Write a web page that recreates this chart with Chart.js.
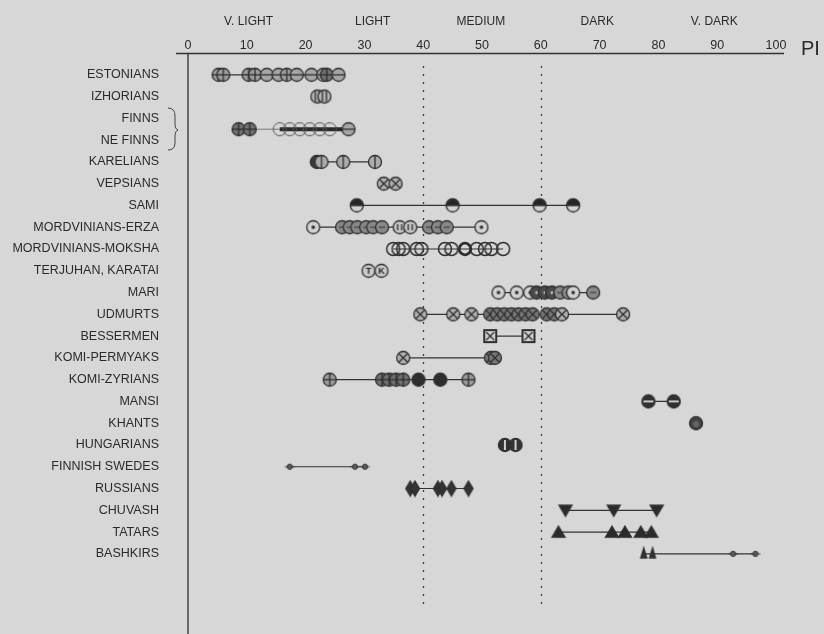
<!DOCTYPE html>
<html>
<head>
<meta charset="utf-8">
<script src="https://cdn.jsdelivr.net/npm/chart.js@4.4.0/dist/chart.umd.min.js"></script>
<style>
  html, body { margin: 0; padding: 0; background: #d7d7d7; }
  #wrap { width: 824px; height: 634px; position: relative; }
</style>
</head>
<body>
<div id="wrap"><canvas id="pigChart"></canvas></div>
<script>
// rows of the chart, top to bottom
const rowLabels = ['ESTONIANS', 'IZHORIANS', 'FINNS', 'NE FINNS', 'KARELIANS', 'VEPSIANS', 'SAMI',
  'MORDVINIANS-ERZA', 'MORDVINIANS-MOKSHA', 'TERJUHAN, KARATAI', 'MARI', 'UDMURTS', 'BESSERMEN',
  'KOMI-PERMYAKS', 'KOMI-ZYRIANS', 'MANSI', 'KHANTS', 'HUNGARIANS', 'FINNISH SWEDES', 'RUSSIANS',
  'CHUVASH', 'TATARS', 'BASHKIRS'];

// pigmentation classes shown above the axis
const shadeLabels = ['V. LIGHT', 'LIGHT', 'MEDIUM', 'DARK', 'V. DARK'];
const shadeCentres = [10.3, 31.4, 49.8, 69.6, 89.5];

// PI values
const estonians = [5.2, 6.0, 10.3, 11.4, 13.4, 15.4, 16.8, 18.5, 21.0, 23.0, 23.6, 25.6];
const izhorians = [22.0, 23.2];
const finns = [8.6, 10.5, 15.6, 17.3, 19.0, 20.7, 22.4, 24.1, 27.3];
const karelians = [21.9, 22.7, 26.4, 31.8];
const vepsians = [33.3, 35.3];
const sami = [28.7, 45.0, 59.8, 65.5];
const erza = [21.3, 26.2, 27.5, 28.8, 30.3, 31.5, 33.0, 36.0, 37.8, 41.0, 42.5, 44.0, 49.9];
const moksha = [34.9, 35.8, 36.6, 38.9, 39.7, 43.7, 44.8, 47.1, 49.1, 50.5, 51.6, 53.6];
const terjuhan = [30.7, 32.9];
const mari = [52.8, 55.9, 58.2, 59.3, 60.7, 61.9, 63.3, 64.7, 65.5, 68.9];
const udmurts = [39.5, 45.1, 48.2, 51.4, 52.6, 53.8, 55.0, 56.2, 57.4, 58.6, 61.0, 62.3, 63.6, 74.0];
const bessermen = [51.4, 57.9];
const komiPermyaks = [36.6, 51.5, 52.2];
const komiZyrians = [24.1, 33.0, 34.2, 35.4, 36.6, 39.2, 42.9, 47.7];
const mansi = [78.3, 82.6];
const khants = [86.4];
const hungarians = [53.9, 55.7];
const finnishSwedes = [17.3, 28.4, 30.1];
const russians = [37.8, 38.6, 42.5, 43.2, 44.8, 47.7];
const chuvash = [64.2, 72.4, 79.7];
const tatars = [63.0, 72.1, 74.3, 77.0, 78.8];
const bashkirs = [77.5, 79.0, 92.7, 96.5];

// row index each series sits on (Finns and NE Finns share one line)
const plotted = [
  [0, estonians], [1, izhorians], [2.5, finns], [4, karelians], [5, vepsians], [6, sami],
  [7, erza], [8, moksha], [9, terjuhan], [10, mari], [11, udmurts], [12, bessermen],
  [13, komiPermyaks], [14, komiZyrians], [15, mansi], [16, khants], [17, hungarians],
  [18, finnishSwedes], [19, russians], [20, chuvash], [21, tatars], [22, bashkirs]
];

// symbol used for each point, same order as plotted
const markKinds = [
  ['plus', 'plus', 'plus', 'plus', 'hline', 'hline', 'plus', 'hline', 'hline', 'hline', 'plusDark', 'hline'],
  'vline2',
  ['plusDark', 'plusDark', 'hopen', 'hopen', 'hopen', 'hopen', 'hopen', 'hopen', 'hline'],
  ['vdark', 'vline', 'vline', 'vline'],
  'cross',
  'half',
  ['dot', 'dotGray', 'dotGray', 'dotGray', 'dotGray', 'dotGray', 'dotGray', 'dotLight', 'dotLight', 'dotGray', 'dotGray', 'dotGray', 'dot'],
  ['open', 'open', 'open', 'open', 'open', 'open', 'open', 'openBold', 'open', 'open', 'open', 'open'],
  ['T', 'K'],
  ['dot', 'dot', 'dot', 'dotDark', 'dotDark', 'dotDark', 'dotGray', 'dotGray', 'dot', 'dotGray'],
  ['cross', 'cross', 'cross', 'crossDark', 'crossDark', 'crossDark', 'crossDark', 'crossDark', 'crossDark', 'crossDark', 'crossDark', 'crossDark', 'cross', 'cross'],
  'sqx',
  ['cross', 'crossDark', 'crossDark'],
  ['plus', 'plusDark', 'plusDark', 'plusDark', 'plusDark', 'fill', 'fill', 'plus'],
  'fillh',
  'fillSoft',
  'fillv',
  'tiny',
  'diamond',
  'tridown',
  'tri',
  ['trismall', 'trismall', 'tiny', 'tiny']
];

const cache = {};
function marker(kind) {
  if (cache[kind]) return cache[kind];
  const c = document.createElement('canvas');
  c.width = c.height = 18;
  const g = c.getContext('2d');
  const m = 9, r = 6.5;
  g.lineWidth = 1.3;
  g.strokeStyle = '#2f2f2f';
  const circle = (fill, rad) => {
    g.beginPath(); g.arc(m, m, rad || r, 0, Math.PI * 2);
    if (fill) { g.fillStyle = fill; g.fill(); }
    g.stroke();
  };
  const line = (x1, y1, x2, y2) => { g.beginPath(); g.moveTo(m + x1, m + y1); g.lineTo(m + x2, m + y2); g.stroke(); };
  const poly = (pts, fill) => {
    g.beginPath(); pts.forEach((p, i) => i ? g.lineTo(m + p[0], m + p[1]) : g.moveTo(m + p[0], m + p[1]));
    g.closePath(); g.fillStyle = fill; g.fill(); g.stroke();
  };
  const d = r * 0.7;
  switch (kind) {
    case 'plus': circle('#9c9c9c'); line(-r, 0, r, 0); line(0, -r, 0, r); break;
    case 'plusDark': circle('#707070'); line(-r, 0, r, 0); line(0, -r, 0, r); break;
    case 'hline': circle('#a6a6a6'); line(-r, 0, r, 0); break;
    case 'hopen': g.strokeStyle = '#555'; g.lineWidth = 1; circle(null); break;
    case 'vline': circle('#ababab'); line(0, -r, 0, r); break;
    case 'vline2': circle('#b4b4b4'); line(-2, -r + 1, -2, r - 1); line(2, -r + 1, 2, r - 1); break;
    case 'vdark': circle('#3a3a3a'); g.strokeStyle = '#aaa'; line(0, -r + 1.5, 0, r - 1.5); break;
    case 'cross': circle('#b0b0b0'); line(-d, -d, d, d); line(-d, d, d, -d); break;
    case 'crossDark': circle('#777'); line(-d, -d, d, d); line(-d, d, d, -d); break;
    case 'half':
      circle('#d2d2d2');
      g.beginPath(); g.arc(m, m, r, Math.PI, Math.PI * 2); g.closePath();
      g.fillStyle = '#262626'; g.fill(); g.stroke(); break;
    case 'dot': circle('#d2d2d2'); g.beginPath(); g.arc(m, m, 1.8, 0, Math.PI * 2); g.fillStyle = '#2a2a2a'; g.fill(); break;
    case 'dotLight': circle('#c4c4c4'); line(-2, -3, -2, 3); line(2, -3, 2, 3); break;
    case 'dotGray': circle('#888'); g.strokeStyle = '#444'; line(-3, 0, 3, 0); break;
    case 'dotDark': circle('#4a4a4a'); g.beginPath(); g.arc(m, m, 1.6, 0, Math.PI * 2); g.fillStyle = '#bbb'; g.fill(); break;
    case 'open': g.lineWidth = 1.5; circle(null); break;
    case 'openBold': g.lineWidth = 2.8; circle(null, 5.8); break;
    case 'sqx':
      g.lineWidth = 2; g.fillStyle = '#d2d2d2';
      g.fillRect(m - 6, m - 6, 12, 12); g.strokeRect(m - 6, m - 6, 12, 12);
      g.lineWidth = 1.2; line(-4, -4, 4, 4); line(-4, 4, 4, -4); break;
    case 'fill': circle('#2e2e2e'); break;
    case 'fillSoft': circle('#444'); g.beginPath(); g.arc(m, m + 1, 3, 0, Math.PI * 2); g.fillStyle = '#666'; g.fill(); break;
    case 'fillh': circle('#303030'); g.strokeStyle = '#c8c8c8'; g.lineWidth = 2; line(-r + 1.5, 0, r - 1.5, 0); break;
    case 'fillv': circle('#333'); g.strokeStyle = '#d0d0d0'; g.lineWidth = 2; line(0, -r + 1.5, 0, r - 1.5); break;
    case 'T': case 'K':
      circle('#cacaca');
      g.fillStyle = '#222'; g.font = 'bold 9px Arial'; g.textAlign = 'center'; g.textBaseline = 'middle';
      g.fillText(kind, m, m + 0.5); break;
    case 'diamond': poly([[0, -7.5], [4.5, 0], [0, 7.5], [-4.5, 0]], '#333'); break;
    case 'tri': poly([[0, -6], [6.5, 5], [-6.5, 5]], '#2b2b2b'); break;
    case 'tridown': poly([[-6.5, -5], [6.5, -5], [0, 6]], '#2b2b2b'); break;
    case 'trismall': poly([[0, -6], [3, 4], [-3, 4]], '#333'); break;
    case 'tiny':
      g.lineWidth = 1; circle('#666', 2.6);
      g.strokeStyle = '#444'; line(-5, 0, 5, 0); break;
  }
  cache[kind] = c;
  return c;
}

const datasets = plotted.map(([row, values], i) => {
  const kinds = markKinds[i];
  const isFinns = values === finns;
  return {
    data: values.map(v => ({ x: v, y: row })),
    showLine: true,
    borderColor: '#333',
    borderWidth: 1.2,
    segment: isFinns ? {
      borderWidth: ctx => ctx.p0.parsed.x > 15 ? 4 : 1,
      borderColor: ctx => ctx.p0.parsed.x > 15 ? '#2a2a2a' : '#777'
    } : undefined,
    pointStyle: values.map((v, k) => marker(Array.isArray(kinds) ? kinds[k] : kinds)),
    pointRadius: 6,
    pointHoverRadius: 6
  };
});

const decorations = {
  id: 'decorations',
  beforeDatasetsDraw(chart) {
    const { ctx, chartArea, scales: { x } } = chart;
    ctx.save();
    ctx.strokeStyle = '#3c3c3c';
    ctx.lineWidth = 1.3;
    ctx.setLineDash([2, 6]);
    [40, 60].forEach(v => {
      const px = Math.round(x.getPixelForValue(v)) + 0.5;
      ctx.beginPath(); ctx.moveTo(px, 66); ctx.lineTo(px, 604); ctx.stroke();
    });
    ctx.setLineDash([]);
    // left axis runs to the bottom of the page
    ctx.strokeStyle = '#3a3a3a';
    ctx.lineWidth = 1.4;
    ctx.beginPath();
    ctx.moveTo(chartArea.left, chartArea.top);
    ctx.lineTo(chartArea.left, chart.height);
    ctx.stroke();
    ctx.restore();
  },
  afterDraw(chart) {
    const { ctx, chartArea, scales: { x } } = chart;
    ctx.save();
    // top axis line
    ctx.strokeStyle = '#333';
    ctx.lineWidth = 1.3;
    ctx.beginPath();
    ctx.moveTo(x.left - 12, chartArea.top + 0.5);
    ctx.lineTo(x.right + 8, chartArea.top + 0.5);
    ctx.stroke();
    // axis name
    ctx.fillStyle = '#2a2a2a';
    ctx.font = '20px Arial, "Liberation Sans", sans-serif';
    ctx.textBaseline = 'alphabetic';
    ctx.fillText('PI', x.right + 25, 55);
    // brace joining FINNS and NE FINNS
    ctx.lineWidth = 1;
    ctx.strokeStyle = '#444';
    ctx.beginPath();
    ctx.moveTo(168, 108);
    ctx.quadraticCurveTo(175, 108, 175, 116);
    ctx.lineTo(175, 125);
    ctx.quadraticCurveTo(175, 129, 178, 130);
    ctx.quadraticCurveTo(175, 131, 175, 135);
    ctx.lineTo(175, 143);
    ctx.quadraticCurveTo(175, 150, 168, 150);
    ctx.stroke();
    ctx.restore();
  }
};

const labelFont = { family: 'Arial, "Liberation Sans", sans-serif', size: 12.5 };

new Chart(document.getElementById('pigChart'), {
  type: 'scatter',
  data: { datasets },
  plugins: [decorations],
  options: {
    responsive: true,
    maintainAspectRatio: false,
    animation: false,
    layout: { padding: { top: 13.5, right: 48, bottom: 0, left: 0 } },
    plugins: {
      legend: { display: false },
      tooltip: { enabled: false }
    },
    scales: {
      x: {
        type: 'linear',
        position: 'top',
        min: 0,
        max: 100,
        weight: 0,
        grid: { display: false, drawTicks: false },
        border: { display: false },
        ticks: { stepSize: 10, padding: 0, color: '#2a2a2a', font: labelFont, maxRotation: 0 },
        afterFit: s => { s.height = 15; }
      },
      x2: {
        type: 'linear',
        position: 'top',
        min: 0,
        max: 100,
        weight: 1,
        grid: { display: false, drawTicks: false },
        border: { display: false },
        afterBuildTicks: s => { s.ticks = shadeCentres.map(v => ({ value: v })); },
        ticks: {
          padding: 9.5, color: '#2a2a2a', font: { family: labelFont.family, size: 12 }, maxRotation: 0, autoSkip: false,
          callback: (v, i) => shadeLabels[i]
        },
        afterFit: s => { s.height = 24.5; }
      },
      y: {
        type: 'linear',
        reverse: true,
        min: -1,
        max: 25.35,
        grid: { display: false, drawTicks: false },
        border: { display: false },
        afterBuildTicks: s => { s.ticks = rowLabels.map((l, i) => ({ value: i })); },
        ticks: {
          padding: 29, color: '#2a2a2a', font: { family: labelFont.family, size: 12.5 }, autoSkip: false,
          callback: v => rowLabels[v] || ''
        },
        afterFit: s => { s.width = 188; s.paddingTop = 0; s.paddingBottom = 0; }
      }
    }
  }
});
</script>
</body>
</html>
